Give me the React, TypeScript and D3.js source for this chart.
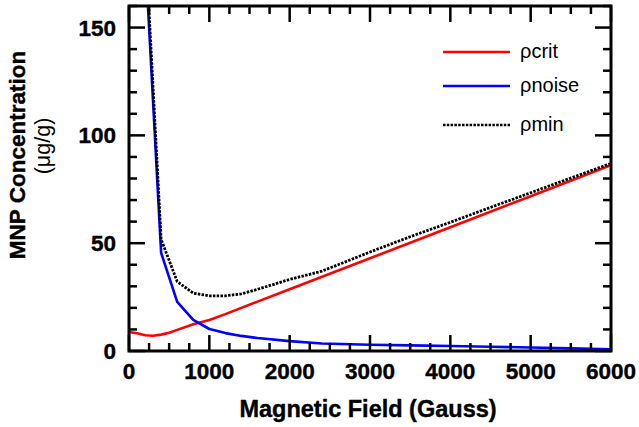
import React from "react";
import * as d3 from "d3";

const critField = [0, 100, 200, 300, 400, 500, 600, 800, 1000, 1200, 1600, 2000, 3000, 4000, 5000, 6000];
const critValue = [8.8, 8.2, 7.3, 7.1, 7.6, 8.5, 9.8, 12.4, 14.4, 17.1, 22.9, 28.6, 43.0, 57.4, 71.8, 86.2];

const noiseField = [200, 400, 600, 800, 1000, 1200, 1400, 1600, 2000, 2400, 3000, 3500, 4000, 4500, 5000, 5500, 6000];
const noiseValue = [185, 45.5, 22.8, 14.4, 10.2, 8.3, 7.0, 6.0, 4.6, 3.5, 2.9, 2.6, 2.3, 2.0, 1.6, 1.2, 0.8];

const minField = [200, 400, 600, 800, 1000, 1200, 1400, 1600, 2000, 2400, 3000, 3500, 4000, 4500, 5000, 5500, 6000];
const minValue = [192, 51.8, 32.2, 26.8, 25.6, 25.6, 26.5, 28.6, 33.2, 37.0, 45.9, 53.0, 59.7, 66.6, 73.4, 80.2, 87.0];

const xMajorTicks = [0, 1000, 2000, 3000, 4000, 5000, 6000];
const yMajorTicks = [0, 50, 100, 150];

const seriesNames = ["crit", "noise", "min"];

export default function App() {
  const W = 639, H = 427;
  const left = 129, right = 611, top = 6, bottom = 351;
  const x = d3.scaleLinear().domain([0, 6000]).range([left, right]);
  const y = d3.scaleLinear().domain([0, 160]).range([bottom, top]);
  const line = d3.line<[number, number]>().x(d => x(d[0])).y(d => y(d[1]));
  const zip = (a: number[], b: number[]) => a.map((v, i) => [v, b[i]] as [number, number]);

  const xMinor = d3.range(0, 6001, 250);
  const yMinor = d3.range(0, 161, 10);
  const font = "'Liberation Sans', Arial, sans-serif";

  const legendY = [52, 86, 125];
  const colors = ["#ff0000", "#0000ff", "#000000"];

  return (
    <svg width={W} height={H} style={{ position: "absolute", left: 0, top: 0, background: "#fff" }}>
      <defs>
        <clipPath id="plot">
          <rect x={left} y={top} width={right - left} height={bottom - top} />
        </clipPath>
      </defs>
      <g clipPath="url(#plot)" fill="none" strokeLinejoin="round">
        <path d={line(zip(critField, critValue)) || ""} stroke="#ff0000" strokeWidth={2.6} />
        <path d={line(zip(noiseField, noiseValue)) || ""} stroke="#0000ff" strokeWidth={2.6} />
        <path d={line(zip(minField, minValue)) || ""} stroke="#000" strokeWidth={2.8} strokeDasharray="2.5 1.3" />
      </g>
      {/* ticks */}
      <g stroke="#000" strokeWidth={2.5}>
        {xMinor.map(v => {
          const major = v % 1000 === 0;
          const len = major ? 16 : 8;
          return (
            <g key={"xt" + v}>
              <line x1={x(v)} x2={x(v)} y1={bottom} y2={bottom - len} />
              <line x1={x(v)} x2={x(v)} y1={top} y2={top + len} />
            </g>
          );
        })}
        {yMinor.map(v => {
          const major = v % 50 === 0;
          const len = major ? 16 : 8;
          return (
            <g key={"yt" + v}>
              <line x1={left} x2={left + len} y1={y(v)} y2={y(v)} />
              <line x1={right} x2={right - len} y1={y(v)} y2={y(v)} />
            </g>
          );
        })}
      </g>
      <rect x={left} y={top} width={right - left} height={bottom - top} fill="none" stroke="#000" strokeWidth={3} />
      {/* tick labels */}
      <g fontFamily={font} fontWeight="bold" fontSize={22.5} fill="#000" stroke="#000" strokeWidth={0.4}>
        {xMajorTicks.map(v => (
          <text key={"xl" + v} x={x(v)} y={379} textAnchor="middle">{v}</text>
        ))}
        {yMajorTicks.map(v => (
          <text key={"yl" + v} x={116} y={y(v)} dy="0.36em" textAnchor="end">{v}</text>
        ))}
      </g>
      {/* axis titles */}
      <text x={368} y={417} textAnchor="middle" fontFamily={font} fontWeight="bold" fontSize={23.5} stroke="#000" strokeWidth={0.4}>Magnetic Field (Gauss)</text>
      <text transform="translate(25,155) rotate(-90)" textAnchor="middle" fontFamily={font} fontWeight="bold" fontSize={22.5} stroke="#000" strokeWidth={0.4}>MNP Concentration</text>
      <text transform="translate(50,146) rotate(-90)" textAnchor="middle" fontFamily={font} fontSize={21.5}>(μg/g)</text>
      {/* legend */}
      {seriesNames.map((n, i) => (
        <g key={"lg" + n}>
          <line x1={443} x2={510} y1={legendY[i]} y2={legendY[i]} stroke={colors[i]} strokeWidth={2.6}
            strokeDasharray={i === 2 ? "2.5 1.3" : undefined} />
          <text x={520} y={legendY[i] + 6} fontFamily={font} fontSize={20} fill="#000">ρ{n}</text>
        </g>
      ))}
    </svg>
  );
}
